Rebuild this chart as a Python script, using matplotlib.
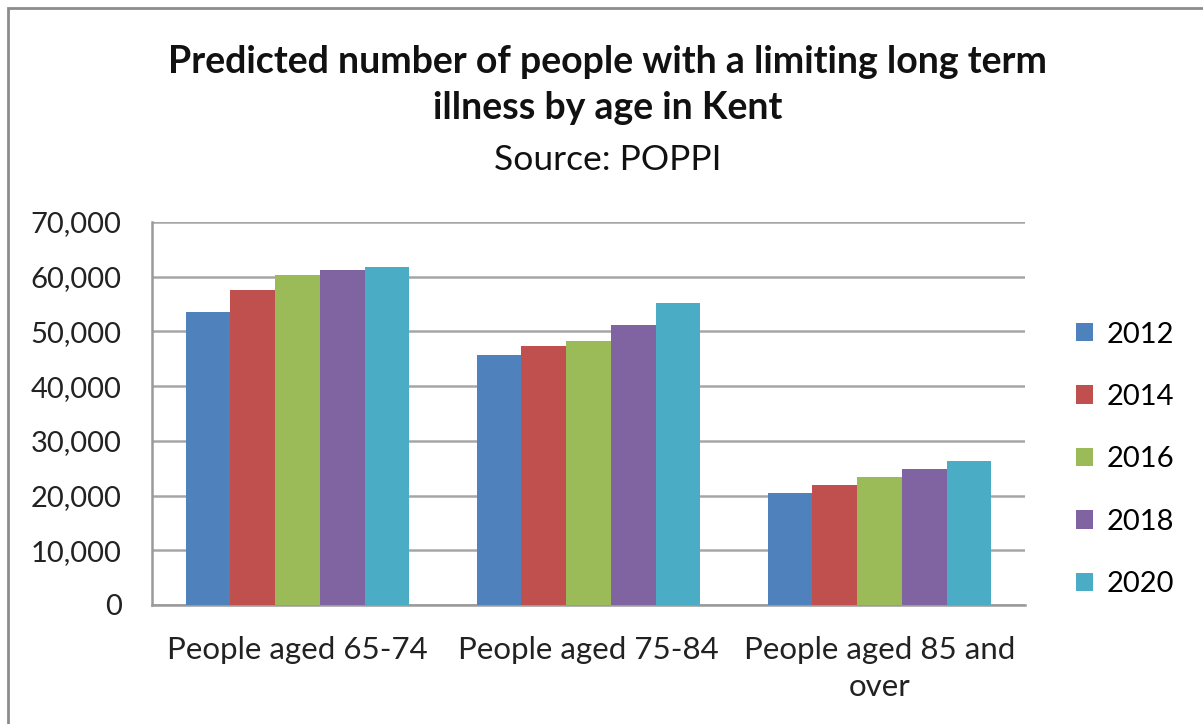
import matplotlib
matplotlib.use("Agg")
import matplotlib.pyplot as plt
import numpy as np
from matplotlib.patches import Rectangle

categories = ["People aged 65-74", "People aged 75-84", "People aged 85 and\nover"]
years = ["2012", "2014", "2016", "2018", "2020"]
values_2012 = [53500, 45600, 20500]
values_2014 = [57600, 47300, 22000]
values_2016 = [60300, 48200, 23400]
values_2018 = [61300, 51200, 24800]
values_2020 = [61700, 55200, 26300]
series = [values_2012, values_2014, values_2016, values_2018, values_2020]
colors = ["#4F81BD", "#C0504D", "#9BBB59", "#8064A2", "#4BACC6"]
yticks = [0, 10000, 20000, 30000, 40000, 50000, 60000, 70000]
ytick_labels = ["0", "10,000", "20,000", "30,000", "40,000", "50,000", "60,000", "70,000"]

plt.rcParams['font.family'] = ['Lato', 'DejaVu Sans']

fig = plt.figure(figsize=(12.03, 7.24), dpi=100)
ax = fig.add_axes([0.1264, 0.1644, 0.7256, 0.529])

n = len(series)
bar_w = 1 / (n + 1.5)
x = np.arange(len(categories))
for i, (vals, col, yr) in enumerate(zip(series, colors, years)):
    offs = (i - (n - 1) / 2) * bar_w
    ax.bar(x + offs, vals, width=bar_w, color=col, label=yr, zorder=3)

ax.set_xlim(-0.5, len(categories) - 0.5)
ax.set_ylim(0, 70000)
ax.set_yticks(yticks)
ax.set_yticklabels(ytick_labels, fontsize=21, color="#222222")
ax.set_xticks(x)
ax.set_xticklabels(categories, fontsize=22.5, color="#222222", linespacing=1.4)
ax.tick_params(axis="x", length=0, pad=22)
ax.tick_params(axis="y", length=0, pad=22)
ax.grid(axis="y", color="#a6a6a6", linewidth=1.8, zorder=0)
for s in ["top", "right"]:
    ax.spines[s].set_visible(False)
for s in ["left", "bottom"]:
    ax.spines[s].set_color("#9a9a9a")
    ax.spines[s].set_linewidth(1.8)

leg = ax.legend(loc="center left", bbox_to_anchor=(1.028, 0.38), frameon=False,
                fontsize=21, handlelength=0.6, handleheight=0.6,
                handletextpad=0.45, labelspacing=1.25)

fig.text(0.505, 0.915, "Predicted number of people with a limiting long term",
         ha="center", va="center", fontsize=27, fontweight="bold", color="#111111")
fig.text(0.505, 0.851, "illness by age in Kent",
         ha="center", va="center", fontsize=27, fontweight="bold", color="#111111")
fig.text(0.505, 0.779, "Source: POPPI",
         ha="center", va="center", fontsize=25.5, color="#111111")

fig.patches.append(Rectangle((0.007, -0.05), 1.1, 1.039, transform=fig.transFigure,
                             fill=False, edgecolor="#8c8c8c", linewidth=2))

fig.savefig("out.png", dpi=100)
